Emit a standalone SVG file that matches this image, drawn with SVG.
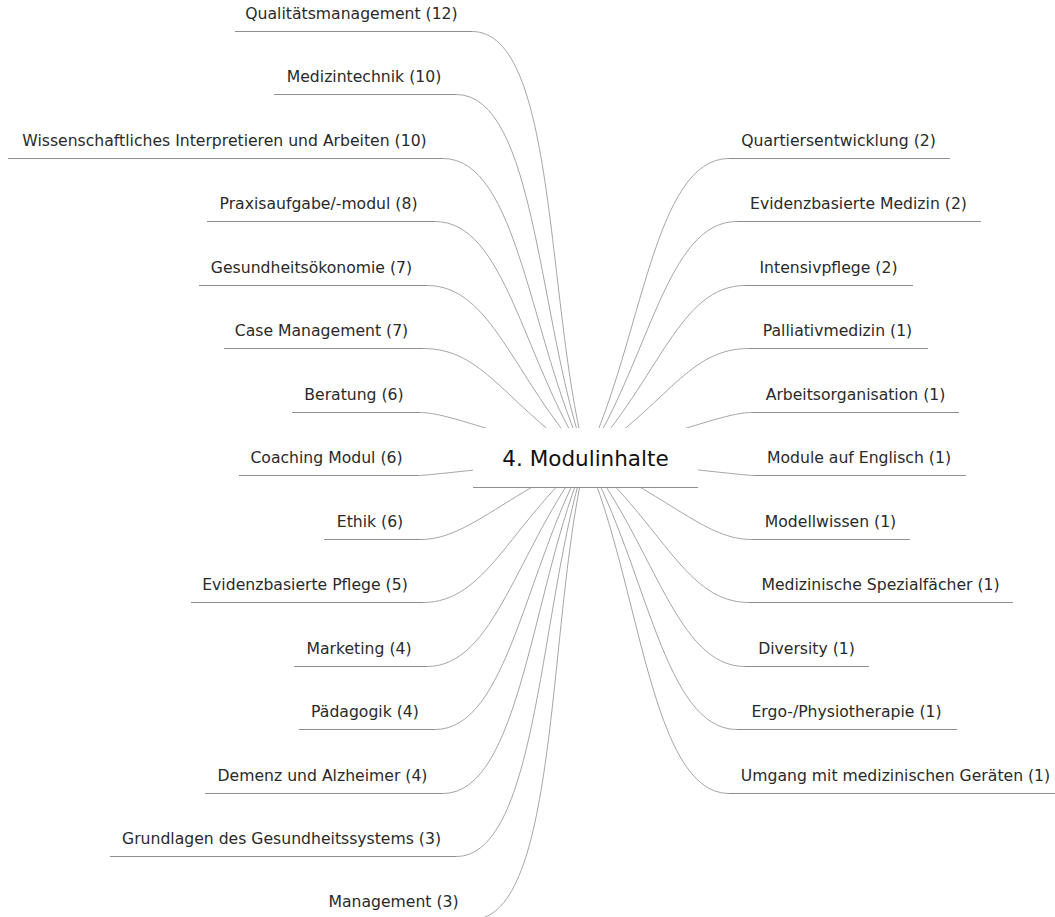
<svg xmlns="http://www.w3.org/2000/svg" width="1055" height="917" viewBox="0 0 1055 917">
<style>
.t{font-family:"DejaVu Sans",Verdana,sans-serif;font-size:15.65px;fill:#2a2a2a;text-anchor:middle}
.u{stroke:#8f8f8f;stroke-width:1;fill:none}
.c{stroke:#a6a6a6;stroke-width:1;fill:none}
.ct{font-family:"DejaVu Sans",Verdana,sans-serif;font-size:21.5px;fill:#111;text-anchor:middle}
</style>
<rect width="1055" height="917" fill="#fff"/>
<g id="connectors">
<path class="c" d="M472 31.5 C557.4 31.5 545.8 307.6 586 458"/>
<path class="c" d="M456 94.5 C536.3 94.5 537.9 323.5 586 458"/>
<path class="c" d="M443 158.5 C518.2 158.5 529.9 340.3 586 458"/>
<path class="c" d="M435 221.5 C505.1 221.5 522.2 358.1 586 458"/>
<path class="c" d="M427 285.5 C492 285.5 512.9 378.4 586 458"/>
<path class="c" d="M423 348.5 C483.5 348.5 503.1 402.1 586 458"/>
<path class="c" d="M420 412.5 C445.3 412.5 489.7 431.3 586 458"/>
<path class="c" d="M418 475.5 C427.6 475.5 486.5 468.4 586 458"/>
<path class="c" d="M420 539.5 C464.6 539.5 496.1 501.9 586 458"/>
<path class="c" d="M423 602.5 C485.7 602.5 508.1 526.9 586 458"/>
<path class="c" d="M427 666.5 C494.8 666.5 516.6 548.7 586 458"/>
<path class="c" d="M435 729.5 C507.9 729.5 525 567.5 586 458"/>
<path class="c" d="M443 793.5 C521 793.5 531.9 584.7 586 458"/>
<path class="c" d="M456 856.5 C539 856.5 539.3 600.9 586 458"/>
<path class="c" d="M472 919.5 C560.1 919.5 546.8 616.4 586 458"/>
<path class="c" d="M729 158.5 C653.8 158.5 642.1 340.3 586 458"/>
<path class="c" d="M737 221.5 C666.9 221.5 649.8 358.1 586 458"/>
<path class="c" d="M745 285.5 C680 285.5 659.1 378.4 586 458"/>
<path class="c" d="M749 348.5 C688.8 348.5 669 402.2 586 458"/>
<path class="c" d="M752 412.5 C726.7 412.5 682.3 431.3 586 458"/>
<path class="c" d="M754 475.5 C744.6 475.5 685.5 468.1 586 458"/>
<path class="c" d="M752 539.5 C707.4 539.5 675.9 501.9 586 458"/>
<path class="c" d="M749 602.5 C686.3 602.5 663.9 526.9 586 458"/>
<path class="c" d="M745 666.5 C677.2 666.5 655.4 548.7 586 458"/>
<path class="c" d="M737 729.5 C664.1 729.5 647 567.5 586 458"/>
<path class="c" d="M729 793.5 C651 793.5 640.1 584.7 586 458"/>
</g>
<g id="center">
<rect x="473" y="428" width="225" height="59" fill="#fff"/>
<line class="u" x1="473" y1="487.5" x2="698" y2="487.5"/>
<text class="ct" x="585.5" y="466">4. Modulinhalte</text>
</g>
<g id="n-qualitaetsmanagement"><line class="u" x1="235" y1="31.5" x2="472" y2="31.5"/><text class="t" x="351.5" y="19">Qualitätsmanagement (12)</text></g>
<g id="n-medizintechnik"><line class="u" x1="274" y1="94.5" x2="456" y2="94.5"/><text class="t" x="364" y="82">Medizintechnik (10)</text></g>
<g id="n-wissenschaftliches"><line class="u" x1="8" y1="158.5" x2="443" y2="158.5"/><text class="t" x="224.5" y="146">Wissenschaftliches Interpretieren und Arbeiten (10)</text></g>
<g id="n-praxisaufgabe"><line class="u" x1="207" y1="221.5" x2="435" y2="221.5"/><text class="t" x="318.5" y="209">Praxisaufgabe/-modul (8)</text></g>
<g id="n-gesundheitsoekonomie"><line class="u" x1="199" y1="285.5" x2="427" y2="285.5"/><text class="t" x="311.5" y="273">Gesundheitsökonomie (7)</text></g>
<g id="n-case-management"><line class="u" x1="224" y1="348.5" x2="423" y2="348.5"/><text class="t" x="321.5" y="336">Case Management (7)</text></g>
<g id="n-beratung"><line class="u" x1="292" y1="412.5" x2="420" y2="412.5"/><text class="t" x="354" y="400">Beratung (6)</text></g>
<g id="n-coaching"><line class="u" x1="239" y1="475.5" x2="418" y2="475.5"/><text class="t" x="326.5" y="463">Coaching Modul (6)</text></g>
<g id="n-ethik"><line class="u" x1="324" y1="539.5" x2="420" y2="539.5"/><text class="t" x="370" y="527">Ethik (6)</text></g>
<g id="n-evidenzbasierte-pflege"><line class="u" x1="191" y1="602.5" x2="423" y2="602.5"/><text class="t" x="305" y="590">Evidenzbasierte Pflege (5)</text></g>
<g id="n-marketing"><line class="u" x1="294" y1="666.5" x2="427" y2="666.5"/><text class="t" x="359" y="654">Marketing (4)</text></g>
<g id="n-paedagogik"><line class="u" x1="299" y1="729.5" x2="435" y2="729.5"/><text class="t" x="365" y="717">Pädagogik (4)</text></g>
<g id="n-demenz"><line class="u" x1="205" y1="793.5" x2="443" y2="793.5"/><text class="t" x="322.5" y="781">Demenz und Alzheimer (4)</text></g>
<g id="n-grundlagen"><line class="u" x1="110" y1="856.5" x2="456" y2="856.5"/><text class="t" x="281.5" y="844">Grundlagen des Gesundheitssystems (3)</text></g>
<g id="n-management"><line class="u" x1="317" y1="919.5" x2="472" y2="919.5"/><text class="t" x="393.5" y="907">Management (3)</text></g>
<g id="n-quartiersentwicklung"><line class="u" x1="729" y1="158.5" x2="950" y2="158.5"/><text class="t" x="838.5" y="146">Quartiersentwicklung (2)</text></g>
<g id="n-evidenzbasierte-medizin"><line class="u" x1="737" y1="221.5" x2="981" y2="221.5"/><text class="t" x="858.5" y="209">Evidenzbasierte Medizin (2)</text></g>
<g id="n-intensivpflege"><line class="u" x1="745" y1="285.5" x2="913" y2="285.5"/><text class="t" x="828.5" y="273">Intensivpflege (2)</text></g>
<g id="n-palliativmedizin"><line class="u" x1="749" y1="348.5" x2="928" y2="348.5"/><text class="t" x="837.5" y="336">Palliativmedizin (1)</text></g>
<g id="n-arbeitsorganisation"><line class="u" x1="752" y1="412.5" x2="959" y2="412.5"/><text class="t" x="855.5" y="400">Arbeitsorganisation (1)</text></g>
<g id="n-module-englisch"><line class="u" x1="754" y1="475.5" x2="966" y2="475.5"/><text class="t" x="859" y="463">Module auf Englisch (1)</text></g>
<g id="n-modellwissen"><line class="u" x1="752" y1="539.5" x2="910" y2="539.5"/><text class="t" x="830.5" y="527">Modellwissen (1)</text></g>
<g id="n-spezialfaecher"><line class="u" x1="749" y1="602.5" x2="1013" y2="602.5"/><text class="t" x="880.5" y="590">Medizinische Spezialfächer (1)</text></g>
<g id="n-diversity"><line class="u" x1="745" y1="666.5" x2="869" y2="666.5"/><text class="t" x="806.5" y="654">Diversity (1)</text></g>
<g id="n-ergo"><line class="u" x1="737" y1="729.5" x2="957" y2="729.5"/><text class="t" x="846.5" y="717">Ergo-/Physiotherapie (1)</text></g>
<g id="n-umgang"><line class="u" x1="729" y1="793.5" x2="1064" y2="793.5"/><text class="t" x="895.5" y="781">Umgang mit medizinischen Geräten (1)</text></g>
</svg>
